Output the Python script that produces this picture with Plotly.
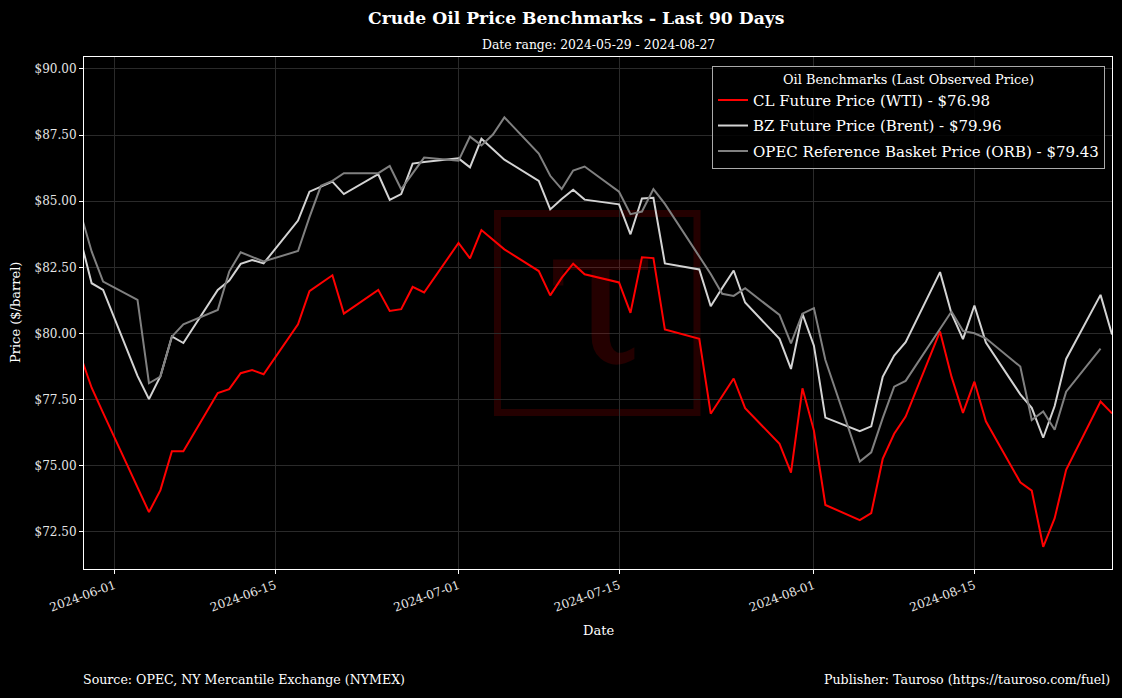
import plotly.graph_objects as go

# WTI (CL future) settlement prices
wti_dates = [
    "2024-05-29", "2024-05-30", "2024-05-31", "2024-06-03", "2024-06-04", "2024-06-05",
    "2024-06-06", "2024-06-07", "2024-06-10", "2024-06-11", "2024-06-12", "2024-06-13",
    "2024-06-14", "2024-06-17", "2024-06-18", "2024-06-20", "2024-06-21", "2024-06-24",
    "2024-06-25", "2024-06-26", "2024-06-27", "2024-06-28", "2024-07-01", "2024-07-02",
    "2024-07-03", "2024-07-05", "2024-07-08", "2024-07-09", "2024-07-10", "2024-07-11",
    "2024-07-12", "2024-07-15", "2024-07-16", "2024-07-17", "2024-07-18", "2024-07-19",
    "2024-07-22", "2024-07-23", "2024-07-24", "2024-07-25", "2024-07-26", "2024-07-29",
    "2024-07-30", "2024-07-31", "2024-08-01", "2024-08-02", "2024-08-05", "2024-08-06",
    "2024-08-07", "2024-08-08", "2024-08-09", "2024-08-12", "2024-08-13", "2024-08-14",
    "2024-08-15", "2024-08-16", "2024-08-19", "2024-08-20", "2024-08-21", "2024-08-22",
    "2024-08-23", "2024-08-26", "2024-08-27",
]
wti_prices = [
    79.20, 77.95, 77.00, 74.20, 73.25, 74.08,
    75.55, 75.55, 77.75, 77.90, 78.50, 78.62,
    78.46, 80.35, 81.60, 82.20, 80.75, 81.65,
    80.85, 80.92, 81.76, 81.55, 83.42, 82.84,
    83.91, 83.18, 82.36, 81.44, 82.10, 82.64,
    82.24, 81.93, 80.78, 82.88, 82.85, 80.15,
    79.80, 76.97, 77.62, 78.30, 77.18, 75.83,
    74.74, 77.93, 76.33, 73.52, 72.95, 73.21,
    75.26, 76.21, 76.86, 80.08, 78.37, 77.00,
    78.18, 76.68, 74.38, 74.06, 71.94, 73.02,
    74.85, 77.43, 76.98,
]

# Brent (BZ future) settlement prices, same trading days as WTI
brent_dates = wti_dates
brent_prices = [
    83.60, 81.90, 81.65, 78.40, 77.52, 78.39,
    79.89, 79.64, 81.65, 82.00, 82.63, 82.78,
    82.65, 84.27, 85.36, 85.74, 85.27, 86.02,
    85.05, 85.27, 86.42, 86.48, 86.62, 86.28,
    87.36, 86.57, 85.77, 84.69, 85.08, 85.43,
    85.06, 84.88, 83.75, 85.10, 85.13, 82.65,
    82.42, 81.03, 81.72, 82.38, 81.17, 79.80,
    78.66, 80.74, 79.54, 76.82, 76.31, 76.49,
    78.36, 79.17, 79.67, 82.32, 80.76, 79.79,
    81.06, 79.66, 77.70, 77.19, 76.06, 77.26,
    79.04, 81.46, 79.96,
]

# OPEC reference basket
orb_dates = [
    "2024-05-29", "2024-05-30", "2024-05-31", "2024-06-03", "2024-06-04", "2024-06-05",
    "2024-06-06", "2024-06-07", "2024-06-10", "2024-06-11", "2024-06-12", "2024-06-13",
    "2024-06-14", "2024-06-17", "2024-06-18", "2024-06-19", "2024-06-20", "2024-06-21",
    "2024-06-24", "2024-06-25", "2024-06-26", "2024-06-27", "2024-06-28", "2024-07-01",
    "2024-07-02", "2024-07-03", "2024-07-04", "2024-07-05", "2024-07-08", "2024-07-09",
    "2024-07-10", "2024-07-11", "2024-07-12", "2024-07-15", "2024-07-16", "2024-07-17",
    "2024-07-18", "2024-07-19", "2024-07-22", "2024-07-23", "2024-07-24", "2024-07-25",
    "2024-07-26", "2024-07-29", "2024-07-30", "2024-07-31", "2024-08-01", "2024-08-02",
    "2024-08-05", "2024-08-06", "2024-08-07", "2024-08-08", "2024-08-09", "2024-08-12",
    "2024-08-13", "2024-08-14", "2024-08-15", "2024-08-16", "2024-08-19", "2024-08-20",
    "2024-08-21", "2024-08-22", "2024-08-23", "2024-08-26",
]
orb_prices = [
    84.60, 83.10, 81.96, 81.27, 78.12, 78.37,
    79.88, 80.35, 80.89, 82.34, 83.07, 82.90,
    82.72, 83.12, 84.40, 85.58, 85.77, 86.06,
    86.06, 86.33, 85.45, 86.05, 86.65, 86.53,
    87.44, 87.11, 87.52, 88.17, 86.80, 85.96,
    85.46, 86.16, 86.31, 85.36, 84.51, 84.61,
    85.46, 84.90, 82.90, 82.25, 81.50, 81.42,
    81.71, 80.70, 79.63, 80.75, 80.96, 79.00,
    75.16, 75.51, 76.80, 77.99, 78.21, 80.20,
    80.83, 80.10, 80.01, 79.82, 78.75, 76.73,
    77.05, 76.36, 77.80, 79.43,
]

x_ticks = ["2024-06-01", "2024-06-15", "2024-07-01", "2024-07-15", "2024-08-01", "2024-08-15"]
y_ticks = [72.5, 75.0, 77.5, 80.0, 82.5, 85.0, 87.5, 90.0]

FONT = "DejaVu Serif"

fig = go.Figure()

fig.add_trace(go.Scatter(
    x=wti_dates, y=wti_prices, mode="lines", legendgroup="wti",
    name=f"CL Future Price (WTI) - ${wti_prices[-1]:.2f}",
    line=dict(color="#ff0000", width=2),
))
fig.add_trace(go.Scatter(
    x=brent_dates, y=brent_prices, mode="lines", legendgroup="brent",
    name=f"BZ Future Price (Brent) - ${brent_prices[-1]:.2f}",
    line=dict(color="#d3d3d3", width=2),
))
fig.add_trace(go.Scatter(
    x=orb_dates, y=orb_prices, mode="lines", legendgroup="orb",
    name=f"OPEC Reference Basket Price (ORB) - ${orb_prices[-1]:.2f}",
    line=dict(color="#808080", width=2),
))

# watermark: dark red box with tau
fig.add_shape(
    type="rect", xref="paper", yref="paper",
    x0=(497.5 - 84) / 1028, x1=(697 - 84) / 1028,
    y0=(569 - 412.5) / 512, y1=(569 - 213.5) / 512,
    line=dict(color="rgba(255,0,0,0.14)", width=7),
    layer="below",
)

annotations = [
    dict(text="τ", x=(600 - 84) / 1028, y=(569 - 294) / 512, font=dict(size=200, color="rgba(255,0,0,0.14)")),
    dict(text="<b>Crude Oil Price Benchmarks - Last 90 Days</b>", x=(576 - 84) / 1028, y=(569 - 18) / 512,
         font=dict(size=17.2, color="white")),
    dict(text="Date range: 2024-05-29 - 2024-08-27", x=0.5, y=(569 - 44) / 512,
         font=dict(size=12.4, color="white")),
    dict(text="Date", x=0.5, y=(569 - 630) / 512, font=dict(size=13, color="white")),
    dict(text="Price ($/barrel)", x=(15 - 84) / 1028, y=0.5, textangle=-90, font=dict(size=13, color="white")),
    dict(text="Source: OPEC, NY Mercantile Exchange (NYMEX)", x=-3 / 1028, y=(569 - 679) / 512, xanchor="left",
         font=dict(size=12.6, color="white")),
    dict(text="Publisher: Tauroso (https://tauroso.com/fuel)", x=1, y=(569 - 679) / 512, xanchor="right",
         font=dict(size=12.6, color="white")),
]
for a in annotations:
    a.setdefault("xanchor", "center")
    a.update(xref="paper", yref="paper", yanchor="middle", showarrow=False)
fig.update_layout(annotations=annotations)

fig.update_layout(
    width=1122,
    height=698,
    margin=dict(l=84, r=10, t=57, b=129),
    paper_bgcolor="#000000",
    plot_bgcolor="#000000",
    font=dict(family=FONT, color="white", size=12),
    showlegend=True,
    legend=dict(
        x=(1105 - 84) / 1028, xanchor="right",
        y=(569 - 66) / 512, yanchor="top",
        bgcolor="rgba(0,0,0,0.85)",
        bordercolor="#aaaaaa",
        borderwidth=1,
        tracegroupgap=3,
        font=dict(size=15, color="white"),
        title=dict(text="Oil Benchmarks (Last Observed Price)", side="top center",
                   font=dict(size=12.9, color="white")),
    ),
)

fig.update_xaxes(
    type="date",
    range=["2024-05-29 08:00", "2024-08-27 00:00"],
    tickvals=x_ticks,
    ticktext=x_ticks,
    tickangle=-20,
    ticks="outside", ticklen=4, tickcolor="white",
    tickfont=dict(size=12, color="#e6e6e6"),
    showgrid=True, gridcolor="#2a2a2a", gridwidth=1,
    showline=True, linecolor="white", linewidth=1, mirror=True,
    zeroline=False,
)
fig.update_yaxes(
    range=[71.10, 90.45],
    tickvals=y_ticks,
    tickformat="$.2f",
    ticks="outside", ticklen=4, tickcolor="white",
    tickfont=dict(size=12, color="#e6e6e6"),
    showgrid=True, gridcolor="#2a2a2a", gridwidth=1,
    showline=True, linecolor="white", linewidth=1, mirror=True,
    zeroline=False,
)

fig.write_html(
    "out.html",
    config={"displayModeBar": False},
    post_script="document.body.style.margin='0';",
)
